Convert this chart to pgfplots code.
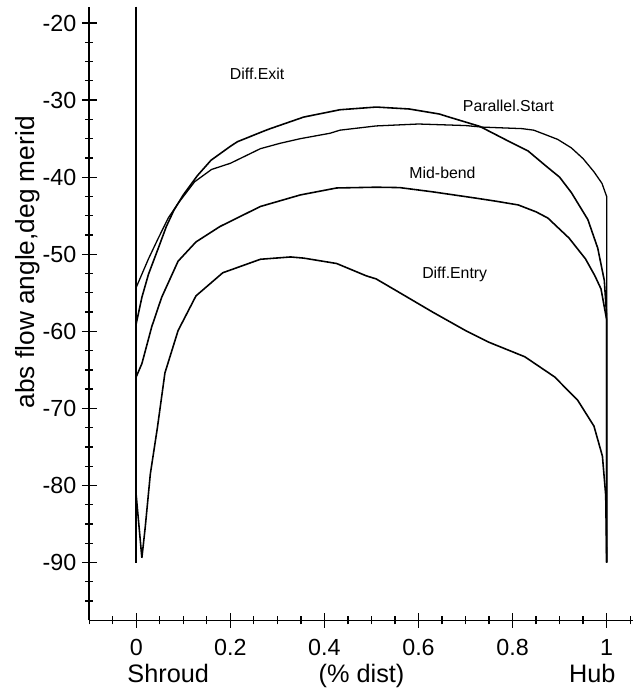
\documentclass[border=0pt]{standalone}
\usepackage{fontspec}
\setmainfont{Liberation Sans}
\usepackage{pgfplots}
\pgfplotsset{compat=1.18}

\begin{document}
\begin{tikzpicture}
\begin{axis}[
  scale only axis, width=548.3pt, height=619.3pt,
  xmin=-0.1, xmax=1.055, ymin=-97.5, ymax=-17.87,
  axis x line=bottom, axis y line=left,
  axis line style={-, line width=1.5pt},
  xtick={0,0.2,0.4,0.6,0.8,1},
  xticklabels={0,0.2,0.4,0.6,0.8,1},
  minor xtick={-0.1,-0.05,0.05,0.1,0.15,0.25,0.3,0.35,0.45,0.5,0.55,0.65,0.7,0.75,0.85,0.9,0.95,1.05},
  ytick={-90,-80,-70,-60,-50,-40,-30,-20},
  yticklabels={-90,-80,-70,-60,-50,-40,-30,-20},
  minor ytick={-95,-92.5,-87.5,-85,-82.5,-77.5,-75,-72.5,-67.5,-65,-62.5,-57.5,-55,-52.5,-47.5,-45,-42.5,-37.5,-35,-32.5,-27.5,-25,-22.5},
  tick align=center,
  major tick length=15pt, minor tick length=8pt,
  every tick/.style={black, line width=1.3pt},
  tick label style={font=\fontsize{23.5}{24}\selectfont},
  xticklabel style={anchor=base, inner sep=0pt, yshift=-28pt},
  yticklabel style={xshift=-2pt},
  clip=false,
]

% wall line at the shroud
\addplot[black, line width=2pt] coordinates {(0,-17.87) (0,-90)};

% Parallel.Start (flat top)
\addplot[black, line width=1.3pt] coordinates {
  (0,-54.3) (0.026,-50.6) (0.047,-47.9) (0.068,-45.3) (0.089,-43.4)
  (0.124,-40.6) (0.16,-39.0) (0.2,-38.2) (0.264,-36.3) (0.306,-35.6)
  (0.349,-35.0) (0.412,-34.3) (0.433,-33.9) (0.51,-33.35) (0.6,-33.1)
  (0.7,-33.3) (0.735,-33.5) (0.82,-33.7) (0.845,-33.9) (0.875,-34.6)
  (0.896,-35.1) (0.925,-36.2) (0.95,-37.6) (0.973,-39.3) (0.99,-40.8)
  (1,-42.5) (1,-90)
};

% Diff.Exit (highest peak)
\addplot[black, line width=1.6pt] coordinates {
  (0,-59) (0.012,-55.6) (0.026,-52.6) (0.047,-49.2) (0.064,-46.4)
  (0.08,-44.3) (0.1,-42.3) (0.13,-39.8) (0.159,-37.8) (0.2,-36.0)
  (0.215,-35.4) (0.272,-34.0) (0.285,-33.7) (0.356,-32.2) (0.433,-31.25)
  (0.51,-30.9) (0.58,-31.15) (0.644,-31.8) (0.665,-32.2) (0.73,-33.4)
  (0.8,-35.6) (0.833,-36.6) (0.87,-38.5) (0.9,-40.0) (0.925,-42.0)
  (0.96,-45.5) (0.981,-49.2) (0.995,-53.4) (1,-58) (1,-90)
};

% Mid-bend
\addplot[black, line width=1.6pt] coordinates {
  (0,-65.9) (0.012,-64.2) (0.033,-59.4) (0.054,-55.6) (0.089,-50.9)
  (0.127,-48.4) (0.178,-46.4) (0.264,-43.8) (0.349,-42.3) (0.426,-41.4)
  (0.51,-41.3) (0.56,-41.35) (0.63,-41.9) (0.72,-42.7) (0.763,-43.1)
  (0.812,-43.6) (0.85,-44.5) (0.875,-45.3) (0.92,-47.9) (0.955,-50.6)
  (0.975,-52.8) (0.988,-54.5) (1,-58.5) (1,-90)
};

% Diff.Entry
\addplot[black, line width=1.6pt] coordinates {
  (0,-81.3) (0.012,-89.4) (0.019,-85.5) (0.03,-78.5) (0.045,-72.5)
  (0.061,-65.4) (0.089,-59.9) (0.127,-55.4) (0.184,-52.4) (0.264,-50.65)
  (0.328,-50.35) (0.356,-50.5) (0.426,-51.2) (0.489,-52.8) (0.51,-53.2)
  (0.552,-54.7) (0.63,-57.5) (0.7,-59.9) (0.749,-61.4) (0.826,-63.3)
  (0.889,-65.9) (0.938,-68.9) (0.973,-72.3) (0.991,-76.2) (0.998,-81.3)
  (1,-89.9)
};

\node[font=\fontsize{16}{16}\selectfont] at (axis cs:0.257,-26.65) {Diff.Exit};
\node[font=\fontsize{16}{16}\selectfont] at (axis cs:0.791,-30.72) {Parallel.Start};
\node[font=\fontsize{16}{16}\selectfont] at (axis cs:0.651,-39.5) {Mid-bend};
\node[font=\fontsize{16}{16}\selectfont] at (axis cs:0.677,-52.6) {Diff.Entry};

\node[rotate=90, anchor=base, font=\fontsize{26.5}{27}\selectfont]
  at (axis cs:-0.2166,-51.04) {abs flow angle,deg merid};
\node[anchor=base west, inner sep=0pt, font=\fontsize{25.5}{26}\selectfont]
  at (axis cs:-0.019,-105.6) {Shroud};
\node[anchor=base, inner sep=0pt, font=\fontsize{25.5}{26}\selectfont]
  at (axis cs:0.479,-105.6) {(\% dist)};
\node[anchor=base east, inner sep=0pt, font=\fontsize{25.5}{26}\selectfont]
  at (axis cs:1.019,-105.6) {Hub};
\end{axis}
\path[use as bounding box] ([shift={(-90pt,-62pt)}]current axis.south west)
  rectangle ([shift={(7.6pt,6.7pt)}]current axis.north east);
\end{tikzpicture}
\end{document}
